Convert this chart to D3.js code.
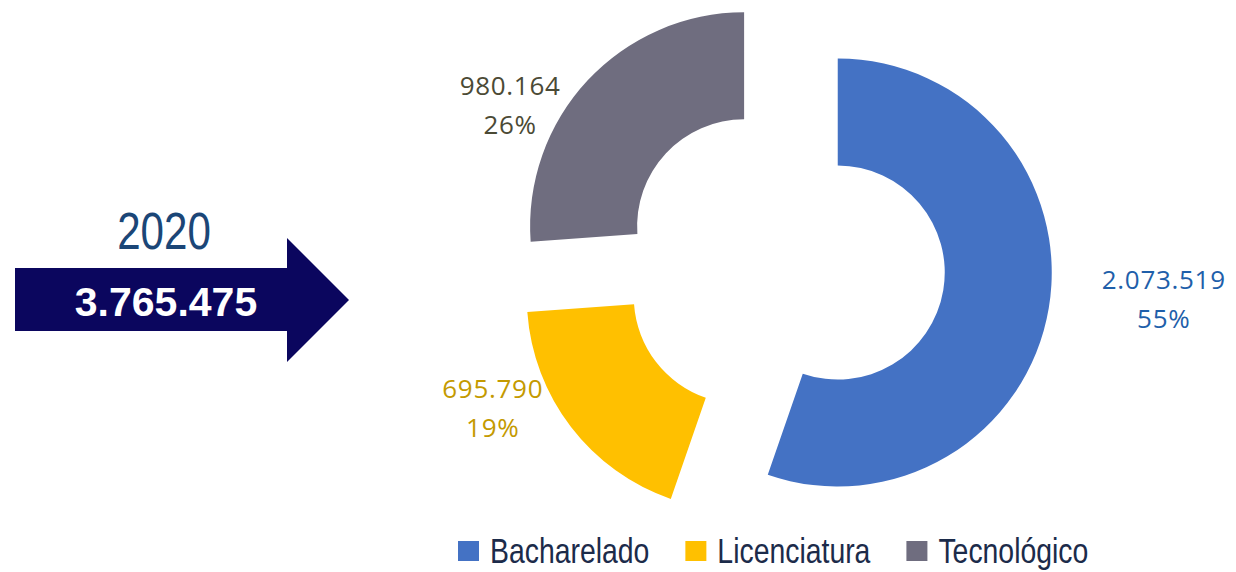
<html lang="pt">
  <head>
    <title>Matrículas 2020</title>
    <meta charset="utf-8">
    <script src="https://d3js.org/d3.v7.min.js"></script>
    <style>
      body { margin: 0; background: white; }
    </style>
  </head>
  <body>
    <div id="my_dataviz"></div>

<script>

// data
var categories = ["Bacharelado", "Licenciatura", "Tecnológico"]
var values = [2073519, 695790, 980164]
var colors = ["#4472C4", "#FFC000", "#6F6D7F"]
var labelColors = ["#1F5FAA", "#C49A00", "#4B4A35"]
var year = "2020"
var totalLabel = 3765475

var width = 1236, height = 572

// brazilian number format: 2.073.519
var locale = d3.formatLocale({decimal: ",", thousands: ".", grouping: [3], currency: ["R$", ""]})
var fmt = locale.format(",d")

var svg = d3.select("#my_dataviz")
  .append("svg")
    .attr("width", width)
    .attr("height", height)
    .attr("style", "background-color:white")

// doughnut geometry
var cx = 784, cy = 263.5
var outerR = 214, innerR = 107
var explode = 54.5

var total = d3.sum(values)

var pie = d3.pie().sort(null).value(function(d) { return d })
var arcs = pie(values)

var arc = d3.arc()
  .innerRadius(innerR)
  .outerRadius(outerR)

// every slice is pushed out along its middle angle
function sliceCenter(d) {
  var a = (d.startAngle + d.endAngle) / 2
  return [cx + explode * Math.sin(a), cy - explode * Math.cos(a)]
}

svg.append("g")
  .selectAll("path")
  .data(arcs)
  .enter()
  .append("path")
    .attr("transform", function(d) { var c = sliceCenter(d); return "translate(" + c[0] + "," + c[1] + ")" })
    .attr("d", arc)
    .attr("fill", function(d, i) { return colors[i] })

// label nudges relative to each slice centre (Excel style placement)
var labelNudge = [[326, 16], [-248, 101], [-234, -131]]

var labels = svg.append("g")
  .selectAll("text")
  .data(arcs)
  .enter()
  .append("text")
    .attr("text-anchor", "middle")
    .style("font-family", "'Open Sans', 'Noto Sans', sans-serif")
    .style("font-size", "26px")
    .style("letter-spacing", "0.7px")
    .attr("fill", function(d, i) { return labelColors[i] })
    .attr("transform", function(d, i) {
      var c = sliceCenter(d)
      return "translate(" + (c[0] + labelNudge[i][0]) + "," + (c[1] + labelNudge[i][1]) + ")"
    })

labels.append("tspan")
  .attr("x", 0)
  .attr("y", 0)
  .text(function(d) { return fmt(d.value) })

labels.append("tspan")
  .attr("x", 0)
  .attr("y", 39)
  .text(function(d) { return Math.round(d.value / total * 100) + "%" })

// narrow font is not installed, so squeeze the regular one
var narrow = 0.81

// year and the big arrow on the left
svg.append("text")
  .attr("transform", "translate(164,249) scale(" + narrow + ",1)")
  .attr("text-anchor", "middle")
  .style("font-family", "'Liberation Sans', Arial, sans-serif")
  .style("font-size", "52px")
  .attr("fill", "#1B4677")
  .text(year)

var arrow = d3.path()
arrow.moveTo(15, 268)
arrow.lineTo(287, 268)
arrow.lineTo(287, 238)
arrow.lineTo(349, 300)
arrow.lineTo(287, 362)
arrow.lineTo(287, 331)
arrow.lineTo(15, 331)
arrow.closePath()

svg.append("path")
  .attr("d", arrow.toString())
  .attr("fill", "#0B065E")

svg.append("text")
  .attr("x", 166)
  .attr("y", 316)
  .attr("text-anchor", "middle")
  .style("font-family", "'Liberation Sans', Arial, sans-serif")
  .style("font-weight", "bold")
  .style("font-size", "41px")
  .attr("fill", "white")
  .text(fmt(totalLabel))

// legend at the bottom
var legend = svg.append("g")
var lx = 458
var legendScale = 0.8
categories.forEach(function(name, i) {
  legend.append("rect")
    .attr("x", lx)
    .attr("y", 541)
    .attr("width", 21)
    .attr("height", 20)
    .attr("fill", colors[i])
  var t = legend.append("text")
    .attr("transform", "translate(" + (lx + 32) + ",563) scale(" + legendScale + ",1)")
    .style("font-family", "'Liberation Sans', Arial, sans-serif")
    .style("font-size", "35.5px")
    .attr("fill", "#1C2B4A")
    .text(name)
  lx = lx + 32 + t.node().getComputedTextLength() * legendScale + 36
})

</script>
  </body>
</html>
